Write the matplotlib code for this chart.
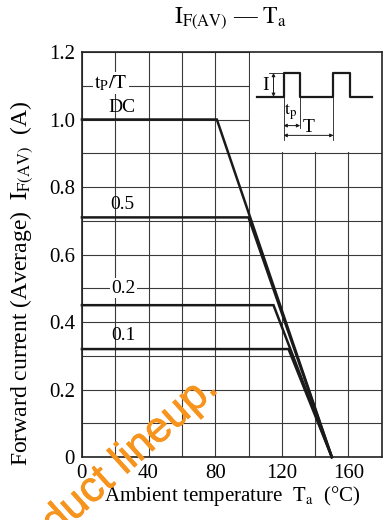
import numpy as np
import matplotlib.pyplot as plt
import matplotlib.patheffects as pe
from matplotlib.patches import Rectangle

plt.rcParams['font.family'] = ['Liberation Serif', 'DejaVu Serif']
plt.rcParams['mathtext.fontset'] = 'stix'

# derating curves: (flat level, knee temperature), all end at 150 C
duty_labels = ['DC', '0.5', '0.2', '0.1']
levels = [1.0, 0.71, 0.45, 0.32]
knees = [81, 100, 115, 124]
t_end = 150

# inset pulse waveform
pulse_x = [105, 121, 121, 131, 131, 151, 151, 161, 161, 174]
pulse_y = [1.067, 1.067, 1.138, 1.138, 1.067, 1.067, 1.138, 1.138, 1.067, 1.067]

fig = plt.figure(figsize=(3.9, 5.2), dpi=100)
ax = fig.add_axes([0.21, 0.121, 0.769, 0.779])

for lv, kn in zip(levels, knees):
    ax.plot([0, kn, t_end], [lv, lv, 0], color='#1a1a1a', lw=1.8,
            solid_joinstyle='miter', zorder=3, clip_on=False)

ax.set_xlim(0, 180)
ax.set_ylim(0, 1.2)
ax.set_xticks(np.arange(0, 181, 20), minor=True)
ax.set_yticks(np.arange(0, 1.21, 0.1), minor=True)
ax.set_xticks([0, 40, 80, 120, 160])
ax.set_yticks([0, 0.2, 0.4, 0.6, 0.8, 1.0, 1.2])
ax.set_yticklabels(['0', '0.2', '0.4', '0.6', '0.8', '1.0', '1.2'])
ax.grid(True, which='both', color='#3a3a3a', lw=0.8)
ax.tick_params(which='both', length=0, labelsize=15, pad=5)
for s in ax.spines.values():
    s.set_linewidth(1.2)
    s.set_color('#222222')
    s.set_zorder(5)

# white area for the inset waveform
ax.add_patch(Rectangle((100.6, 0.905), 79.4, 0.295, facecolor='white',
                       edgecolor='none', zorder=2))
ax.plot(pulse_x, pulse_y, color='#1a1a1a', lw=1.6, zorder=4)
arr = dict(arrowstyle='<|-|>', color='#1a1a1a', lw=0.7, mutation_scale=5,
           shrinkA=0, shrinkB=0)
ax.annotate('', xy=(115, 1.067), xytext=(115, 1.138), arrowprops=arr, zorder=4)
ax.plot([112, 121], [1.138, 1.138], color='#1a1a1a', lw=0.6, zorder=4)
ax.text(110.5, 1.10, 'I', fontsize=14, ha='center', va='center', zorder=4)
ax.plot([121, 121], [1.067, 0.94], color='#1a1a1a', lw=0.6, zorder=4)
ax.plot([131, 131], [1.067, 0.975], color='#1a1a1a', lw=0.6, zorder=4)
ax.plot([151, 151], [1.067, 0.94], color='#1a1a1a', lw=0.6, zorder=4)
ax.annotate('', xy=(121, 0.982), xytext=(131, 0.982), arrowprops=arr, zorder=4)
ax.annotate('', xy=(121, 0.953), xytext=(151, 0.953), arrowprops=arr, zorder=4)
ax.text(125.5, 1.022, r'$\mathrm{t_p}$', fontsize=13, ha='center', va='center', zorder=4)
ax.text(136, 0.975, 'T', fontsize=14, ha='center', va='center', zorder=4)

# curve labels
wb = dict(facecolor='white', edgecolor='none', pad=1)
ax.text(17.5, 1.108, r'$\mathrm{t_P/T}$', fontsize=14, ha='center', va='center',
        bbox=wb, zorder=4)
ax.text(24, 1.037, 'DC', fontsize=14, ha='center', va='center', zorder=4)
ax.text(24, 0.747, '0.5', fontsize=14, ha='center', va='center', zorder=4)
ax.text(25, 0.50, '0.2', fontsize=14, ha='center', va='center', bbox=wb, zorder=4)
ax.text(25, 0.36, '0.1', fontsize=14, ha='center', va='center', zorder=4)

ax.set_xlabel(r'Ambient temperature  $\mathrm{T_a}$  (°C)', fontsize=15, labelpad=1)
ax.set_ylabel(r'Forward current (Average)  $\mathrm{I_{F(AV)}}$  (A)', fontsize=17)
ax.yaxis.set_label_coords(-0.155, 0.43)
fig.text(0.592, 0.965, r'$\mathrm{I_{F(AV)}}$ — $\mathrm{T_a}$', fontsize=17,
         ha='center', va='center')

# watermark
fig.text(219 / 390, 1 - 391 / 520, 'Product lineup.', fontsize=31, color='#f7941d',
         family=['Liberation Sans', 'DejaVu Sans'], rotation=42,
         rotation_mode='anchor', ha='right', va='baseline', zorder=10,
         path_effects=[pe.withStroke(linewidth=0.5, foreground='#f7941d')])

fig.savefig('out.png', dpi=100)
